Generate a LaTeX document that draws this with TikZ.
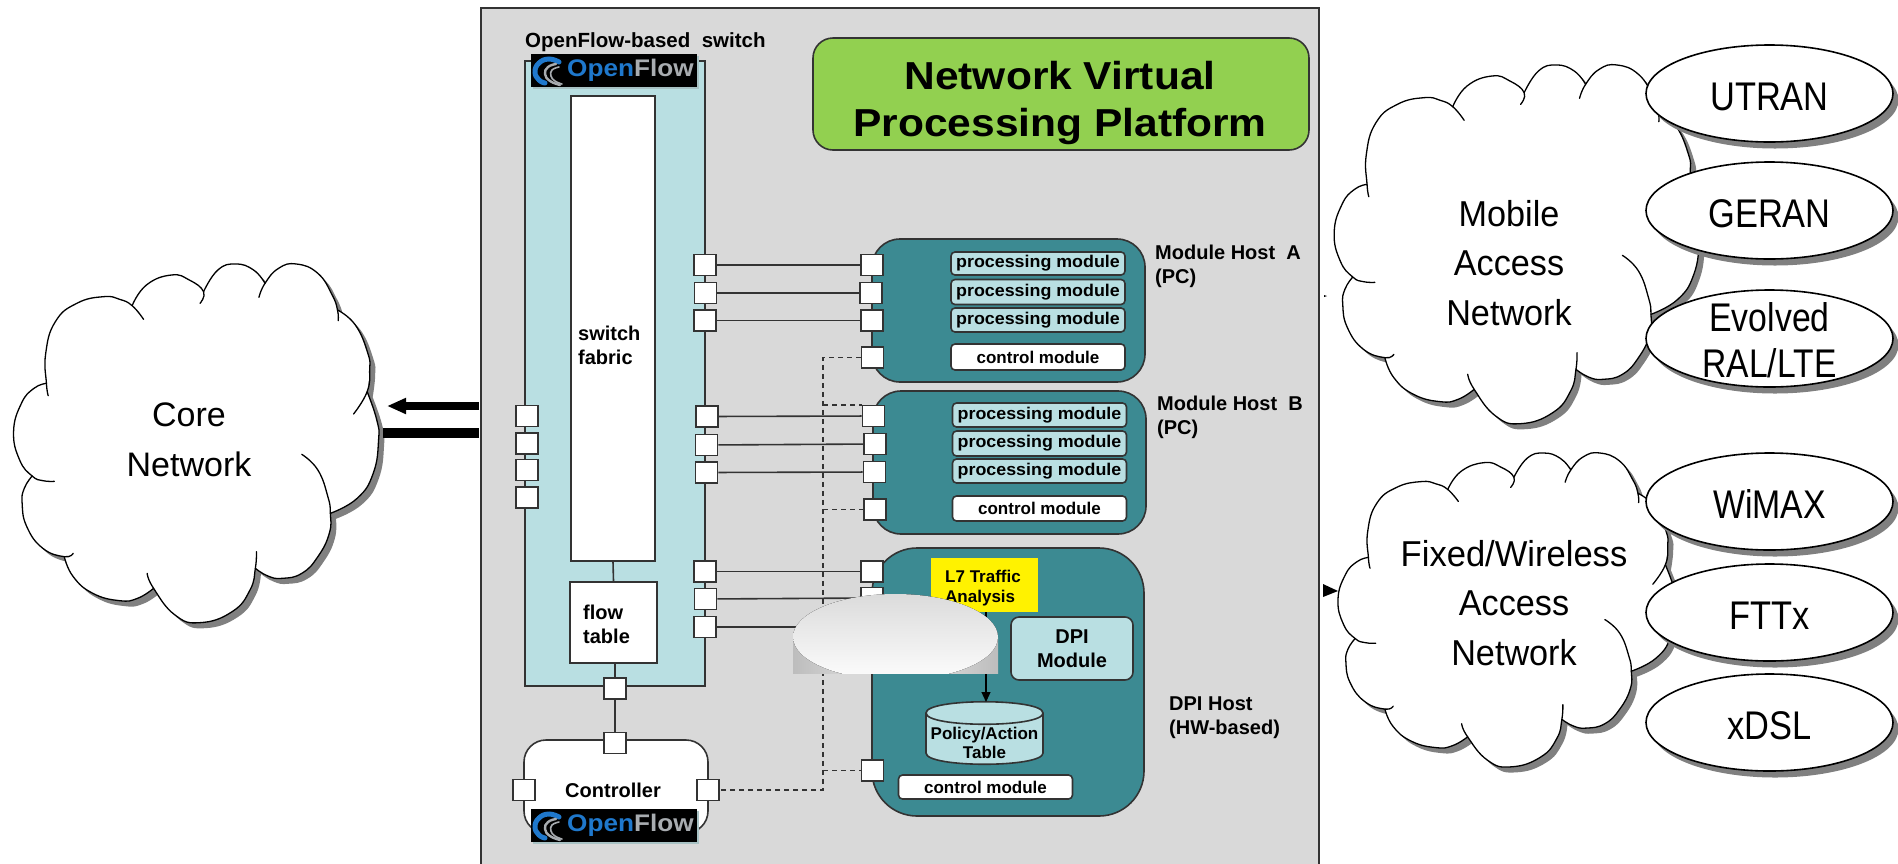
\documentclass[tikz,border=0pt]{standalone}
\usepackage{fontspec}
\usepackage{graphicx}
\setmainfont{Liberation Sans}
\usetikzlibrary{shapes.geometric,arrows.meta}
\definecolor{panelgray}{HTML}{D9D9D9}
\definecolor{lightteal}{HTML}{B9DFE2}
\definecolor{hostteal}{HTML}{3C8A92}
\definecolor{titlegreen}{HTML}{92D050}
\definecolor{edge}{HTML}{333333}
\definecolor{shadowgray}{HTML}{808080}
\definecolor{logoblue}{HTML}{1F78CC}
\definecolor{logogray}{HTML}{A8ACB0}
\newcommand\hs[2]{\scalebox{#1}[1]{#2}}
\newcommand\lowered[1]{\raisebox{-17pt}[0pt][0pt]{#1}}
\tikzset{
  every plot/.style={tension=.8},
  fs/.style 2 args={font=\fontsize{#1pt}{#2pt}\selectfont},
  fsb/.style 2 args={font=\fontsize{#1pt}{#2pt}\selectfont\bfseries},
  box/.style={draw=edge,line width=1.6pt,inner sep=0pt,align=center},
  port/.style={box,fill=white,minimum width=22pt,minimum height=21pt},
  wire/.style={draw=edge,line width=1.6pt},
  dashwire/.style={draw=edge,line width=1.6pt,dash pattern=on 5pt off 4pt},
  procbox/.style={box,fill=lightteal,rounded corners=4pt,fsb={17}{20},minimum width=174pt},
  ctrlbox/.style={box,fill=white,rounded corners=4pt,fsb={17}{20},minimum width=174pt},
  hostbox/.style={box,fill=hostteal,rounded corners=28pt},
  lab/.style={inner sep=0pt,align=left,anchor=west,fsb={20}{24}},
  cloudtext/.style={inner sep=0pt,align=center},
  oval/.style={ellipse,draw=black,line width=1.6pt,fill=white,inner sep=0pt,minimum width=247pt,minimum height=97pt,fs={40}{50},align=center},
  cloudline/.style={draw=black,line width=1.3pt,line cap=round},
}
\newcommand\cloudfillpath{%
  plot[smooth] coordinates {(130,430)(128,340)(155,245)(215,190)(290,170)(335,178)(370,197)}
  -- plot[smooth] coordinates {(370,197)(410,135)(480,105)(530,120)(570,155)}
  -- plot[smooth] coordinates {(570,155)(610,90)(660,72)(710,90)(742,130)}
  -- plot[smooth] coordinates {(742,130)(780,85)(830,72)(890,100)(930,165)(945,210)}
  -- plot[smooth] coordinates {(945,210)(995,255)(1030,340)(1035,390)(1028,455)}
  -- plot[smooth] coordinates {(1028,455)(1055,540)(1060,600)(1045,700)(1000,775)(925,820)}
  -- plot[smooth] coordinates {(925,820)(922,880)(890,950)(845,1000)(790,1015)(750,1008)(715,985)}
  -- plot[smooth] coordinates {(715,985)(700,1050)(650,1115)(560,1148)(490,1125)(430,1045)}
  -- plot[smooth] coordinates {(430,1045)(385,1075)(335,1082)(260,1060)(205,1010)(180,950)}
  -- plot[smooth] coordinates {(180,950)(120,925)(75,860)(62,790)(68,745)(90,708)}
  -- plot[smooth] coordinates {(90,708)(55,660)(38,575)(60,490)(95,445)(130,430)} -- cycle}
\newcommand\cloudshape[4]{%
  \begin{scope}[shift={({#1+5.5},{#2+5.5})},xscale=#3,yscale=#4]
    \fill[shadowgray] \cloudfillpath;
  \end{scope}
  \begin{scope}[shift={(#1,#2)},xscale=#3,yscale=#4]
    \fill[white] \cloudfillpath;
    \draw[cloudline] plot[smooth] coordinates {(135,467)(130,430)(128,340)(155,245)(215,190)(290,170)(335,178)(370,197)(402,238)};
    \draw[cloudline] plot[smooth] coordinates {(370,197)(410,135)(480,105)(530,120)(570,155)(560,190)};
    \draw[cloudline] plot[smooth] coordinates {(570,155)(610,90)(660,72)(710,90)(742,130)};
    \draw[cloudline] plot[smooth] coordinates {(725,172)(742,130)(780,85)(830,72)(890,100)(930,165)(945,210)(947,242)};
    \draw[cloudline] plot[smooth] coordinates {(945,210)(995,255)(1030,340)(1035,390)(1028,455)(990,522)};
    \draw[cloudline] plot[smooth] coordinates {(1028,455)(1055,540)(1060,600)(1045,700)(1000,775)(925,820)};
    \draw[cloudline] plot[smooth] coordinates {(845,643)(890,690)(918,770)(925,820)(922,880)(890,950)(845,1000)(790,1015)(750,1008)(715,985)};
    \draw[cloudline] plot[smooth] coordinates {(718,935)(715,985)(700,1050)(650,1115)(560,1148)(490,1125)(430,1045)(412,1000)};
    \draw[cloudline] plot[smooth] coordinates {(430,1045)(385,1075)(335,1082)(260,1060)(205,1010)(180,950)};
    \draw[cloudline] plot[smooth] coordinates {(205,940)(180,950)(120,925)(75,860)(62,790)(68,745)(90,708)};
    \draw[cloudline] plot[smooth] coordinates {(152,724)(120,722)(90,708)(55,660)(38,575)(60,490)(95,445)(130,430)};
  \end{scope}}
\newcommand\oflogo[3]{%
  \begin{scope}[shift={(#2,#3)}]
    \fill[lightteal!70!gray] (2,2) rectangle (168,35);
    \node[fill=black,inner sep=0pt,minimum width=166pt,minimum height=33pt] (#1) at (83,16.5) {};
    \draw[logoblue,line width=5pt,line cap=round] plot[smooth] coordinates {(28,8)(18,5)(8,9)(4,18)(8,26)(14,29)};
    \draw[logogray,line width=2.4pt,line cap=round] plot[smooth] coordinates {(25,10)(17,13)(14,20)(19,27)(29,31)};
    \draw[logogray,line width=1.6pt,line cap=round] plot[smooth] coordinates {(28,13)(21,16)(20,22)(24,27)(31,30)};
    \node[inner sep=0pt,anchor=west,fsb={24}{28}] (#1t) at (36,16) {\hs{1.09}{\textcolor{logoblue}{Open}\textcolor{logogray}{Flow}}};
  \end{scope}}
\begin{document}
\begin{tikzpicture}[x=1pt,y=-1pt]
\clip (0,0) rectangle (1898,863);
\fill[white] (0,0) rectangle (1898,863);
% panel
\node[box,fill=panelgray,minimum width=838pt,minimum height=872pt] (panel) at (900,444) {};
% clouds
\cloudshape{0}{240}{0.35714}{0.33333}
\cloudshape{1320.6}{41}{0.35714}{0.33333}
\cloudshape{1325.4}{432}{0.3307}{0.2917}
\node[cloudtext,fs={34}{50}] (core) at (189,440) {Core\\Network};
\node[cloudtext,fs={36}{49.5}] (mobile) at (1509,263) {\hs{.95}{Mobile}\\\hs{.95}{Access}\hspace*{11pt}\\\hs{.95}{Network}};
\node[cloudtext,fs={36}{49.5}] (fixed) at (1514,603) {\hs{.96}{Fixed/Wireless}\\\hs{.95}{Access}\\\hs{.95}{Network}};
% ovals
\fill[shadowgray] (1775,100) ellipse [x radius=123.5,y radius=48.5];
\fill[shadowgray] (1775,217) ellipse [x radius=123.5,y radius=48.5];
\fill[shadowgray] (1775,345) ellipse [x radius=123.5,y radius=48.5];
\fill[shadowgray] (1775,508) ellipse [x radius=123.5,y radius=48.5];
\fill[shadowgray] (1775,619) ellipse [x radius=123.5,y radius=48.5];
\fill[shadowgray] (1775,729) ellipse [x radius=123.5,y radius=48.5];
\node[oval] (utran) at (1769.5,93.5) {\lowered{\hs{.86}{UTRAN}}};
\node[oval] (geran) at (1769.5,210.5) {\lowered{\hs{.86}{GERAN}}};
\node[oval] (lte) at (1769.5,338.5) {};
\node[cloudtext,fs={40}{46}] (ltet) at (1769.5,340.5) {\hs{.845}{Evolved}\\\hs{.84}{RAL/LTE}};
\node[oval] (wimax) at (1769.5,501.5) {\lowered{\hs{.845}{WiMAX}}};
\node[oval] (fttx) at (1769.5,612.5) {\lowered{\hs{.86}{FTTx}}};
\node[oval] (xdsl) at (1769.5,722.5) {\lowered{\hs{.86}{xDSL}}};
% arrows to core
\coordinate (ua) at (479,406);
\coordinate (ub) at (387,406);
\coordinate (la) at (479,433);
\coordinate (lb) at (383,433);
\draw[line width=8pt,-{Triangle[length=19pt,width=15pt]}] (ua) -- (ub);
\draw[line width=10pt] (la) -- (lb);
\fill (1323,584) -- (1338,591) -- (1323,597) -- cycle;
\fill (1324,295) -- (1327,296) -- (1324,297) -- cycle;
% switch
\node[box,fill=lightteal,minimum width=180pt,minimum height=625pt] (switch) at (615,373.5) {};
\node[box,fill=white,minimum width=84pt,minimum height=465pt] (fabric) at (613,328.5) {};
\node[box,fill=white,minimum width=87pt,minimum height=81pt] (flow) at (613.5,622.5) {};
\draw[wire] (fabric.south) -- (flow.north);
\node[lab] (fabrict) at (578,345) {switch\\fabric};
\node[lab] (flowt) at (583,624) {flow\\table};
\node[lab,fsb={20.5}{25},anchor=west] (oflabel) at (525,42) {OpenFlow-based\ \ switch};
% title
\node[box,fill=titlegreen,rounded corners=20pt,minimum width=496pt,minimum height=112pt] (title) at (1061,94) {};
\node[inner sep=0pt,align=center,fsb={39}{47}] (titlet) at (1060,103) {\hs{1.09}{Network Virtual}\\\hs{1.09}{Processing Platform}};
% hosts
\node[hostbox,minimum width=273pt,minimum height=143pt] (hosta) at (1008.5,310.5) {};
\node[hostbox,minimum width=273pt,minimum height=143pt] (hostb) at (1009.5,462.5) {};
\node[hostbox,rounded corners=45pt,minimum width=272pt,minimum height=268pt] (dpi) at (1008,682) {};
\node[procbox,minimum height=23pt] (pa1) at (1038,263.5) {\hs{1.05}{processing module}};
\node[procbox,minimum height=25pt] (pa2) at (1038,292) {\hs{1.05}{processing module}};
\node[procbox,minimum height=24pt] (pa3) at (1038,320) {\hs{1.05}{processing module}};
\node[ctrlbox,minimum height=26pt] (ca) at (1038,357) {control module};
\node[procbox,minimum height=24pt] (pb1) at (1039.5,415) {\hs{1.05}{processing module}};
\node[procbox,minimum height=25pt] (pb2) at (1039.5,443.5) {\hs{1.05}{processing module}};
\node[procbox,minimum height=24pt] (pb3) at (1039.5,471) {\hs{1.05}{processing module}};
\node[ctrlbox,minimum height=25pt] (cb) at (1039.5,508.5) {control module};
\node[ctrlbox,minimum height=24pt] (cd) at (985.5,787) {control module};
\node[lab] (hal) at (1155,266) {Module Host\ \ A\\(PC)};
\node[lab] (hbl) at (1157,417) {Module Host\ \ B\\(PC)};
\node[lab] (hdl) at (1169,718) {DPI Host\\(HW-based)};
\node[fill=yellow,inner sep=0pt,minimum width=107pt,minimum height=54pt] (l7) at (984.5,585) {};
\node[inner sep=0pt,align=left,anchor=west,fsb={17}{20.5}] (l7t) at (945,588) {L7 Traffic\\Analysis};
\node[box,fill=lightteal,rounded corners=8pt,minimum width=122pt,minimum height=63pt,fsb={20}{24}] (dmod) at (1072,648.5) {DPI\\Module};
% policy/action cylinder
\path[draw=edge,line width=1.6pt,fill=lightteal] (926,713) -- (926,753) .. controls (926,768) and (1043,768) .. (1043,753) -- (1043,713) .. controls (1043,698) and (926,698) .. (926,713) -- cycle;
\draw[edge,line width=1.6pt] (926,713) .. controls (926,728) and (1043,728) .. (1043,713);
\node[inner sep=0pt,align=center,fsb={17}{19.5}] (cyl) at (984.5,743) {Policy/Action\\Table};
\coordinate (cyltop) at (986,702);
\draw[draw=black,line width=1.2pt,-{Triangle[length=10pt,width=9pt]}] (l7.south -| cyltop) -- (cyltop);
% connectors between ports
\coordinate (jbot) at (823,790);
% ports
\node[port] (sa1) at (705,265) {};
\node[port] (sa2) at (705.5,293) {};
\node[port] (sa3) at (705,320.5) {};
\node[port] (sb1) at (707,416.5) {};
\node[port] (sb2) at (706.5,445) {};
\node[port] (sb3) at (706.5,472.5) {};
\node[port] (sd1) at (705,571.5) {};
\node[port] (sd2) at (705.5,599) {};
\node[port] (sd3) at (705,627) {};
\node[port] (ha1) at (872,265) {};
\node[port] (ha2) at (871,293) {};
\node[port] (ha3) at (872,320.5) {};
\node[port] (ha4) at (872.5,357.5) {};
\node[port] (hb1) at (873.5,416) {};
\node[port] (hb2) at (875,444) {};
\node[port] (hb3) at (874.5,472) {};
\node[port] (hb4) at (875,509.5) {};
\node[port] (hd1) at (872,571.5) {};
\node[port] (hd2) at (872,598) {};
\node[port] (hd4) at (872.5,770.5) {};
\node[port] (wl1) at (527,416) {};
\node[port] (wl2) at (527,443.5) {};
\node[port] (wl3) at (527,470) {};
\node[port] (wl4) at (527,497.5) {};
\node[port] (sc) at (615,688.5) {};
% controller
\node[box,fill=white,rounded corners=22pt,minimum width=184pt,minimum height=93pt] (ctrl) at (616,786.5) {};
\node[inner sep=0pt,fsb={20}{24}] (ctrlt) at (613,790) {Controller};
\node[port] (ct) at (615,743) {};
\node[port] (cl) at (524,790) {};
\node[port] (cr) at (708,790) {};
\draw[wire] (sc.south) -- (ct.north);
\draw[wire] (flow.south -| sc) -- (sc.north);
\draw[wire] (sa1) -- (ha1);
\draw[wire] (sa2) -- (ha2);
\draw[wire] (sa3) -- (ha3);
\draw[wire] (sb1) -- (hb1);
\draw[wire] (sb2) -- (hb2);
\draw[wire] (sb3) -- (hb3);
\draw[wire] (sd1) -- (hd1);
\draw[wire] (sd2) -- (hd2);
\coordinate (hd3) at (872,627);
\draw[wire] (sd3) -- (hd3);
\draw[dashwire] (ha4.west) -| (jbot) -- (cr.east);
\draw[dashwire] (jbot |- hb1.north west) -- (hb1.north west);
\draw[dashwire] (jbot |- hb4.west) -- (hb4.west);
\draw[dashwire] (jbot |- hd4.west) -- (hd4.west);
% logos
\oflogo{logotop}{531}{54}
\oflogo{logobot}{531}{809}
% cover
\fill[left color=black!26,right color=black!26,middle color=black!8] (793,637) rectangle (998,673);
\begin{scope}
  \clip (793,590) rectangle (998,673);
  \fill[top color=black!14,bottom color=black!1] (895.5,637) ellipse [x radius=102.5,y radius=43];
\end{scope}
\end{tikzpicture}
\end{document}
